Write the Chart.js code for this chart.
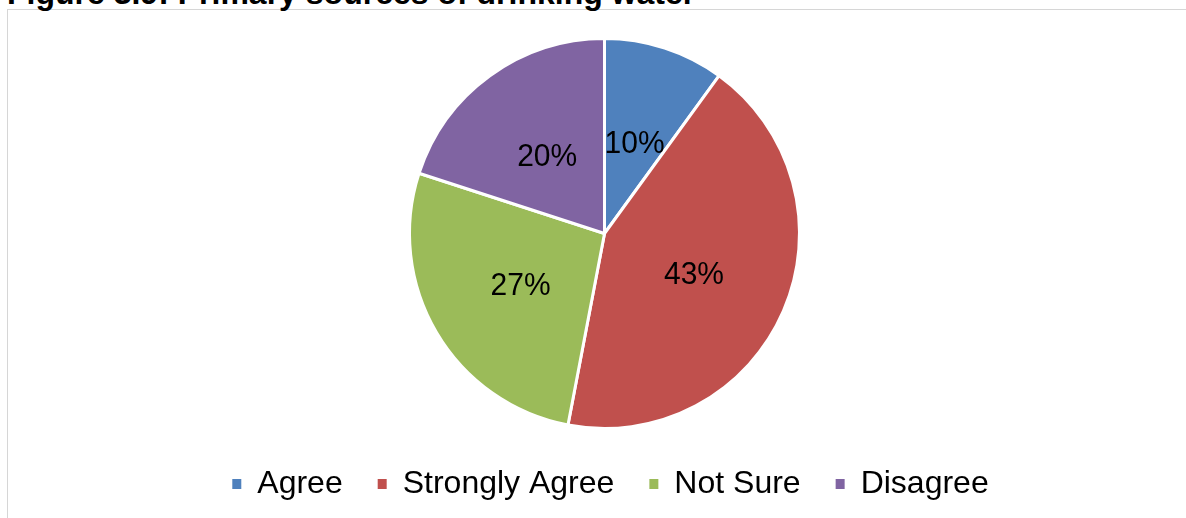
<!DOCTYPE html>
<html>
<head>
<meta charset="utf-8">
<title>Figure 3.9: Primary sources of drinking water</title>
<script src="https://cdn.jsdelivr.net/npm/chart.js@4"></script>
<style>
    html, body {
        margin: 0;
        padding: 0;
        background: #ffffff;
        overflow: hidden;
    }
    .page {
        position: relative;
        width: 1186px;
        height: 518px;
    }
    .frame {
        position: absolute;
        left: 7px;
        top: 9px;
        right: -10px;
        bottom: -10px;
        border-left: 1.5px solid #d6d6d6;
        border-top: 1.5px solid #d6d6d6;
    }
    .fig-title {
        position: absolute;
        left: 7px;
        top: -23px;
        margin: 0;
        font: bold 32px/32px "Liberation Sans", Arial, sans-serif;
        color: #000000;
        white-space: nowrap;
    }
    #sourcesChart {
        position: absolute;
        left: 0;
        top: 0;
    }
</style>
</head>
<body>
<div class="page">
    <div class="frame"></div>
    <h1 class="fig-title">Figure 3.9: Primary sources of drinking water</h1>
    <canvas id="sourcesChart" width="1186" height="518"></canvas>
</div>

<script>
// --- Chart data ---
const categories = ['Agree', 'Strongly Agree', 'Not Sure', 'Disagree'];
const percentages = [10, 43, 27, 20];
const sliceColors = ['#4F81BD', '#C0504D', '#9BBB59', '#8064A2'];

// Draw "xx%" in the middle of every slice (half the radius, like Excel)
const sliceLabels = {
    id: 'sliceLabels',
    afterDatasetsDraw(chart) {
        const ctx = chart.ctx;
        const meta = chart.getDatasetMeta(0);
        const values = chart.data.datasets[0].data;
        ctx.font = '30px "Liberation Sans", Arial, sans-serif';
        ctx.fillStyle = '#000000';
        ctx.textAlign = 'center';
        ctx.textBaseline = 'middle';
        meta.data.forEach((arc, i) => {
            const pos = arc.tooltipPosition();
            ctx.save();
            // source text is a little taller than wide
            ctx.translate(pos.x, pos.y + 3);
            ctx.scale(1, 1.06);
            ctx.fillText(values[i] + '%', 0, 0);
            ctx.restore();
        });
    }
};

// Excel centres the legend a bit right of the pie
const legendShift = {
    id: 'legendShift',
    afterLayout(chart) {
        if (!chart.legend) return;
        chart.legend.left += 6;
        chart.legend.right += 6;
    }
};

document.addEventListener('DOMContentLoaded', () => {
    const ctx = document.getElementById('sourcesChart');

    new Chart(ctx, {
        type: 'pie',
        data: {
            labels: categories,
            datasets: [{
                data: percentages,
                backgroundColor: sliceColors,
                borderColor: '#ffffff',
                borderWidth: 3,
                radius: 195
            }]
        },
        options: {
            responsive: false,
            animation: false,
            devicePixelRatio: 1,
            layout: {
                padding: { left: 23, right: 0, top: 34, bottom: 8 }
            },
            plugins: {
                tooltip: { enabled: false },
                legend: {
                    position: 'bottom',
                    labels: {
                        boxWidth: 9,
                        boxHeight: 10,
                        padding: 35,
                        color: '#000000',
                        font: { family: '"Liberation Sans", Arial, sans-serif', size: 32 },
                        generateLabels: (chart) => {
                            // default pie labels, but without the white slice border on the boxes
                            const base = Chart.overrides.pie.plugins.legend.labels.generateLabels(chart);
                            return base.map(item => ({ ...item, lineWidth: 0 }));
                        }
                    }
                }
            }
        },
        plugins: [sliceLabels, legendShift]
    });
});
</script>
</body>
</html>
